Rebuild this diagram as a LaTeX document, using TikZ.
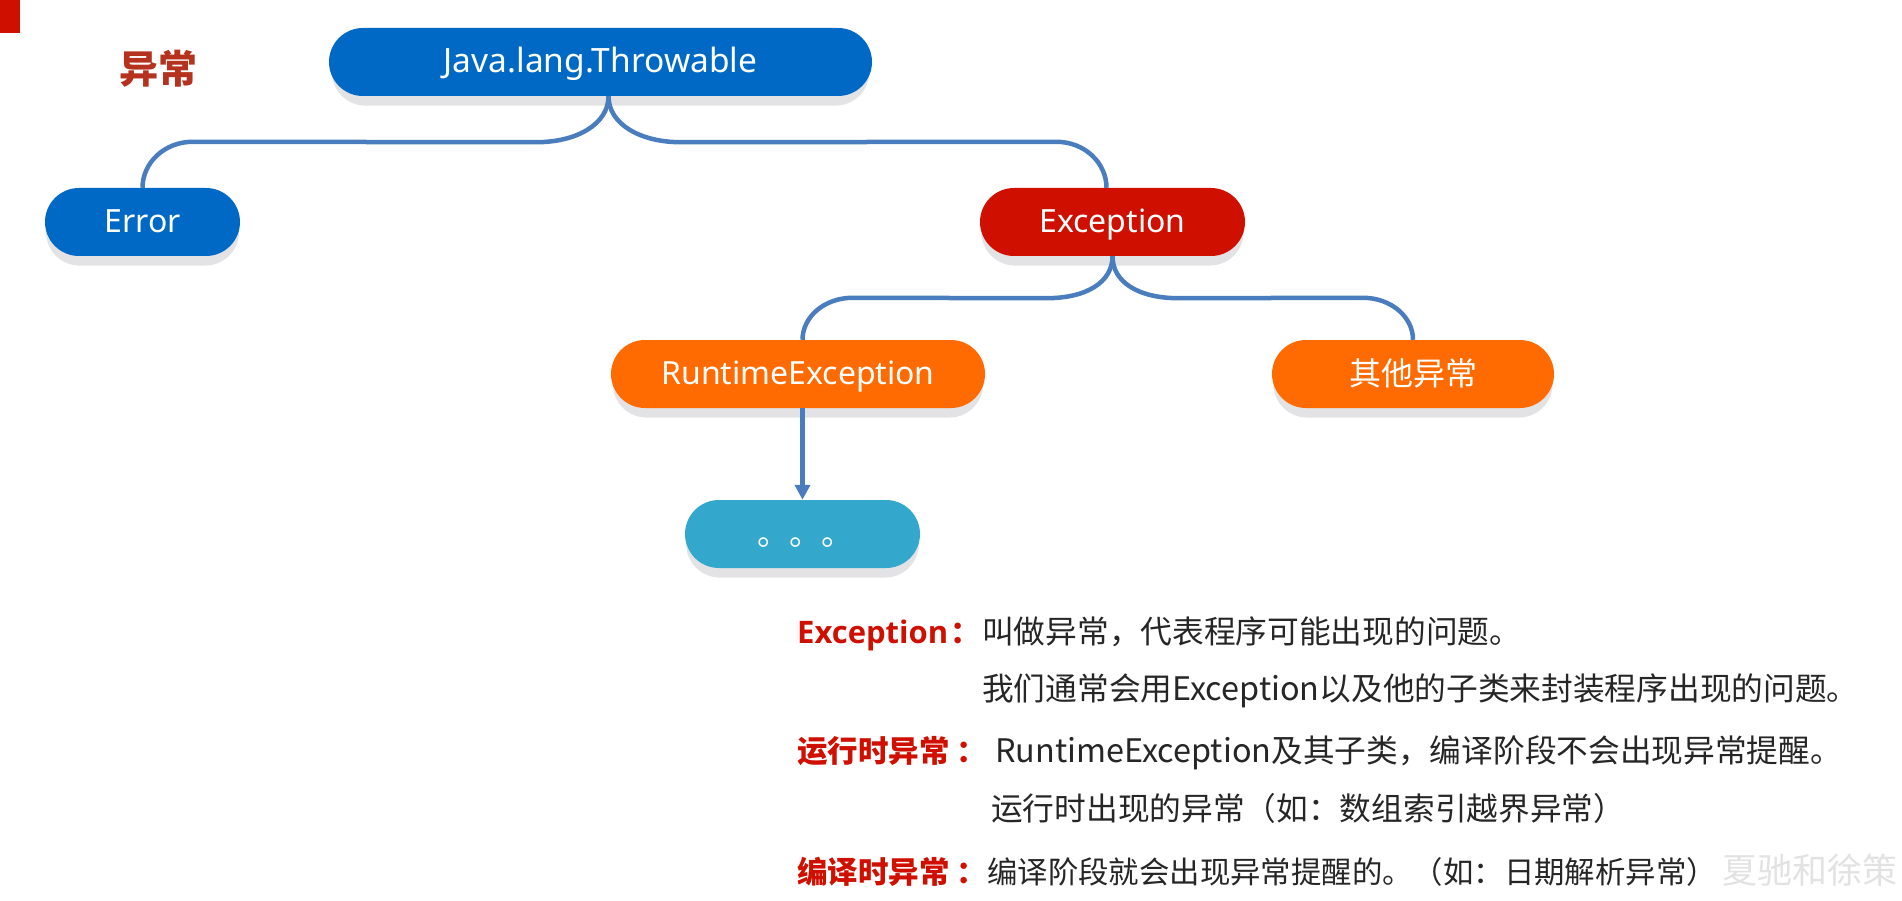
\documentclass[tikz,border=0pt]{standalone}
\usepackage{fontspec}
\setmainfont{Noto Sans}
\newfontfamily\cjk{Noto Sans CJK SC}
\newfontfamily\boldlatin{Open Sans}
\usepackage{xcolor}
\usetikzlibrary{shapes.misc, shadows, calc, arrows.meta}
\definecolor{color1}{RGB}{0, 105, 198}
\definecolor{color2}{RGB}{207, 16, 0}
\definecolor{color3}{RGB}{255, 107, 0}
\definecolor{color4}{RGB}{51, 168, 204}
\definecolor{color5}{RGB}{74, 125, 189}
\definecolor{color6}{RGB}{227, 227, 229}
\definecolor{color7}{RGB}{181, 50, 31}
\definecolor{color8}{RGB}{38, 38, 38}
\definecolor{color9}{RGB}{226, 226, 226}
\newcommand{\latin}[1]{{\fontsize{32.4}{36}\selectfont #1}}
\tikzset{
    pill/.style={rounded rectangle, minimum height=68pt, inner sep=0pt, text=white,
        text height=28pt, text depth=6pt,
        font=\fontsize{32}{36}\selectfont,
        drop shadow={shadow xshift=0pt, shadow yshift=-10pt, shadow scale=0.99, fill=color6, opacity=1}},
    pillzh/.style={pill, font=\cjk\fontsize{32}{36}\selectfont},
    link/.style={draw=color5, line width=4.5pt},
    label/.style={anchor=base west, inner sep=0pt, text=color2, font=\cjk\fontsize{30.5}{36}\selectfont\bfseries},
    body/.style={anchor=base west, inner sep=0pt, text=color8, font=\cjk\fontsize{31.7}{36}\selectfont},
}
\begin{document}
\begin{tikzpicture}[x=1pt, y=-1pt]
    \useasboundingbox (0, 0) rectangle (1902, 901);
    \fill[color2] (0, 0) rectangle (20, 33);
    \node (title) [text=color7, inner sep=0pt, font=\cjk\fontsize{39}{44}\selectfont\bfseries] at (158, 69) {异常};

    \node (throwable) [pill, minimum width=543pt, fill=color1, font=\fontsize{33.5}{36}\selectfont] at (600.5, 62) {Java.lang.Throwable};
    \node (error) [pill, minimum width=195pt, fill=color1] at (142.5, 222) {Error};
    \node (exception) [pill, minimum width=265pt, fill=color2] at (1112.5, 222) {Exception};
    \node (runtime) [pill, minimum width=374pt, fill=color3] at (798, 374) {\raisebox{1pt}{RuntimeException}};
    \node (other) [pillzh, minimum width=282pt, fill=color3] at (1413, 374) {其他异常};
    \node (dots) [pillzh, minimum width=235pt, fill=color4] at (802.5, 534) {\hspace*{6pt}。。。};

    % branches out of the top node
    \draw[link] ($(throwable.south)+(8,0)$) .. controls +(0,28) and +(40,0) .. ++(-72,46)
        -- ($(error.north)+(50,-46)$) .. controls +(-28,0) and +(0,-25) .. (error.north);
    \draw[link] ($(throwable.south)+(8,0)$) .. controls +(0,28) and +(-40,0) .. ++(72,46)
        -- ($(exception.north)+(-56,-46)$) .. controls +(28,0) and +(0,-25) .. ($(exception.north)+(-6,0)$);
    % branches out of exception
    \draw[link] (exception.south) .. controls +(0,26) and +(40,0) .. ++(-66,42)
        -- ($(dots.north |- runtime.north)+(50,-42)$) .. controls +(-28,0) and +(0,-23) .. (dots.north |- runtime.north);
    \draw[link] (exception.south) .. controls +(0,26) and +(-40,0) .. ++(66,42)
        -- ($(other.north)+(-50,-42)$) .. controls +(28,0) and +(0,-23) .. (other.north);
    \draw[link, -{Triangle[length=15pt, width=15pt]}] (dots.north |- runtime.south) -- (dots.north);

    \node (lblexception) [label] at (797, 643) {{\boldlatin\fontsize{31}{36}\selectfont Exception}\hspace{2pt}：};
    \node (rowa) [body] at (982, 643) {叫做异常，代表程序可能出现的问题。};
    \node (rowb) [body] at (982, 700) {我们通常会用\latin{Exception}以及他的子类来封装程序出现的问题。};
    \node (lblruntime) [label] at (797, 762) {运行时异常\hspace{7pt}：};
    \node (rowc) [body] at (995, 762) {\latin{RuntimeException}及其子类，编译阶段不会出现异常提醒。};
    \node (rowd) [body] at (991, 820) {运行时出现的异常（如：数组索引越界异常）};
    \node (lblcompile) [label] at (797, 883) {编译时异常\hspace{7pt}：};
    \node (rowe) [body, font=\cjk\fontsize{30.4}{36}\selectfont] at (987, 883) {编译阶段就会出现异常提醒的。（如：日期解析异常）};
    \node (mark) [anchor=base west, inner sep=0pt, text=color9, font=\cjk\fontsize{35}{40}\selectfont] at (1722, 883) {夏驰和徐策};
\end{tikzpicture}
\end{document}
